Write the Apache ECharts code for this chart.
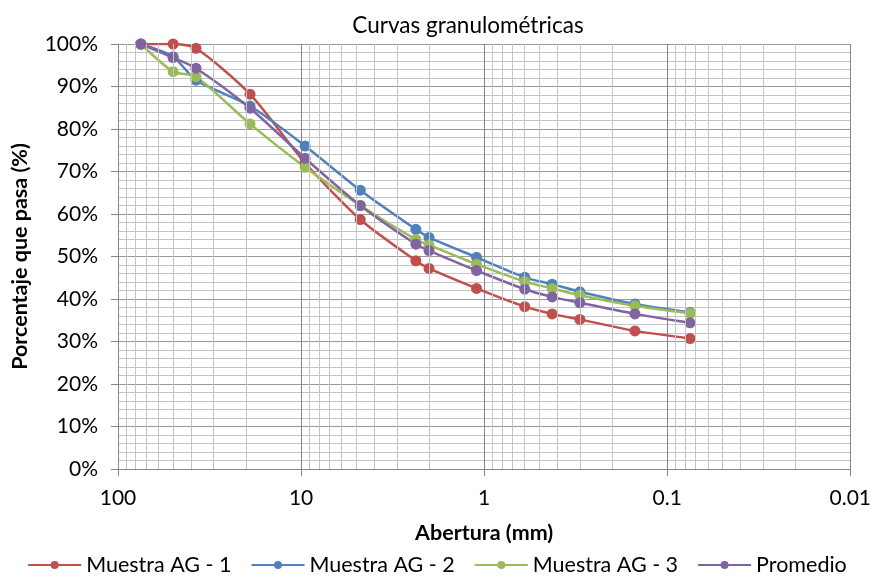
<!DOCTYPE html>
<html>
<head>
<meta charset="utf-8">
<script src="https://cdn.jsdelivr.net/npm/echarts@6/dist/echarts.min.js"></script>
<style>
  html, body { margin: 0; padding: 0; background: #fff; }
  #chart { width: 874px; height: 583px; }
</style>
</head>
<body>
<div id="chart"></div>
<script>
// abertura de tamices (mm)
var aberturas = [75, 50, 37.5, 19, 9.5, 4.75, 2.36, 2.0, 1.1, 0.6, 0.425, 0.3, 0.15, 0.075];

var muestra1 = [100, 100, 99, 88.2, 72, 58.7, 49.0, 47.2, 42.5, 38.2, 36.5, 35.2, 32.5, 30.7];
var muestra2 = [100, 97, 91.5, 85.4, 76.0, 65.6, 56.4, 54.5, 49.8, 45.1, 43.5, 41.7, 38.8, 36.8];
var muestra3 = [100, 93.5, 92.3, 81.2, 71.0, 62.0, 54.0, 52.7, 48.2, 44.1, 42.5, 40.9, 38.4, 36.6];
var promedio = [100, 96.8, 94.3, 84.9, 73.1, 62.0, 52.9, 51.4, 46.7, 42.3, 40.5, 39.1, 36.5, 34.4];

var xTicks = ['100', '10', '1', '0.1', '0.01'];

var FONT = 'Lato, "Open Sans", sans-serif';

function pares(vals) {
  var out = [];
  for (var i = 0; i < aberturas.length; i++) out.push([aberturas[i], vals[i]]);
  return out;
}

// lineas menores de la rejilla logaritmica (2..9 en cada decada)
var minorX = [];
for (var k = -2; k <= 1; k++) {
  for (var m = 2; m <= 9; m++) {
    minorX.push({ xAxis: m * Math.pow(10, k) });
  }
}

function serie(nombre, color, vals) {
  return {
    name: nombre,
    type: 'line',
    data: pares(vals),
    smooth: 0.25,
    symbol: 'circle',
    symbolSize: 11,
    lineStyle: { color: color, width: 2.5 },
    itemStyle: { color: color },
    z: 3
  };
}

var mychart = echarts.init(document.getElementById('chart'));

var option = {
  animation: false,
  backgroundColor: '#fff',
  title: {
    text: 'Curvas granulométricas',
    left: 463,
    textAlign: 'center',
    top: 9,
    textStyle: { fontFamily: FONT, fontSize: 22.5, fontWeight: 'normal', color: '#000' }
  },
  grid: { left: 118, right: 22, top: 44, bottom: 114 },
  legend: {
    bottom: 2,
    left: 'center',
    itemWidth: 53,
    itemHeight: 10,
    itemGap: 19,
    textStyle: { fontFamily: FONT, fontSize: 21.5, color: '#000' },
    data: ['Muestra AG - 1', 'Muestra AG - 2', 'Muestra AG - 3', 'Promedio']
  },
  xAxis: {
    type: 'log',
    logBase: 10,
    min: 0.01,
    max: 100,
    inverse: true,
    name: 'Abertura (mm)',
    nameLocation: 'middle',
    nameGap: 53,
    nameTextStyle: { fontFamily: FONT, fontSize: 21.5, fontWeight: 'bold', color: '#000' },
    axisLine: { show: true, onZero: false, lineStyle: { color: '#868686', width: 1 } },
    axisTick: { show: true, length: 7, lineStyle: { color: '#868686' } },
    axisLabel: {
      margin: 19,
      fontFamily: FONT, fontSize: 21, color: '#000',
      formatter: function (v) {
        var e = Math.round(Math.log(v) / Math.LN10);
        return xTicks[2 - e];
      }
    },
    splitLine: { show: true, lineStyle: { color: '#868686', width: 1 } }
  },
  yAxis: {
    type: 'value',
    min: 0,
    max: 100,
    interval: 10,
    name: 'Porcentaje que pasa (%)',
    nameLocation: 'middle',
    nameGap: 87,
    nameTextStyle: { fontFamily: FONT, fontSize: 21.5, fontWeight: 'bold', color: '#000' },
    axisLine: { show: true, lineStyle: { color: '#868686', width: 1 } },
    axisTick: { show: true, length: 7, lineStyle: { color: '#868686' } },
    axisLabel: { margin: 20, fontFamily: FONT, fontSize: 21, color: '#000', formatter: '{value}%' },
    splitLine: { show: true, lineStyle: { color: '#999999', width: 1 } },
    minorTick: { show: false, splitNumber: 5 },
    minorSplitLine: { show: true, lineStyle: { color: '#c4c4c4', width: 1 } }
  },
  series: [
    {
      name: 'rejilla',
      type: 'line',
      data: [],
      silent: true,
      markLine: {
        silent: true,
        symbol: 'none',
        label: { show: false },
        lineStyle: { color: '#c4c4c4', width: 1, type: 'solid' },
        data: minorX
      },
      z: 1
    },
    serie('Muestra AG - 1', '#C0504D', muestra1),
    serie('Muestra AG - 2', '#4F81BD', muestra2),
    serie('Muestra AG - 3', '#9BBB59', muestra3),
    serie('Promedio', '#8064A2', promedio)
  ]
};

mychart.setOption(option);
</script>
</body>
</html>
